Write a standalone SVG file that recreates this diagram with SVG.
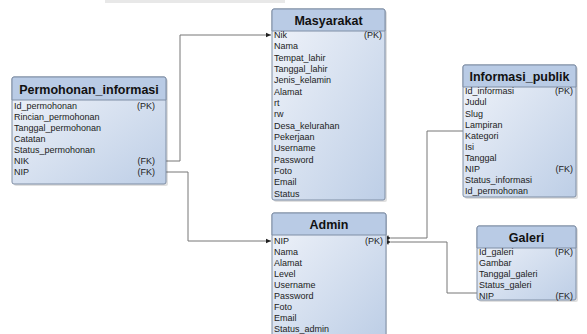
<svg xmlns="http://www.w3.org/2000/svg" width="587" height="334" viewBox="0 0 587 334">
<defs>
<linearGradient id="body" x1="0" y1="0" x2="1" y2="1">
<stop offset="0" stop-color="#f1f4fa"/>
<stop offset="1" stop-color="#bdcee6"/>
</linearGradient>
<marker id="arr" markerWidth="6" markerHeight="6" refX="5" refY="3" orient="auto" markerUnits="userSpaceOnUse">
<path d="M0,0.8 L5,3 L0,5.2 Z" fill="#222"/>
</marker>
<marker id="bar" markerWidth="6" markerHeight="6" refX="1" refY="3" orient="auto" markerUnits="userSpaceOnUse">
<path d="M1,0.5 L1,5.5 M3,0.5 L3,5.5" stroke="#222" stroke-width="1.2"/>
</marker>
</defs>
<style>
.box{fill:url(#body);stroke:#7f8ea5;stroke-width:1}
.hd{fill:#b9cbe5;stroke:#7f8ea5;stroke-width:1}
.sh{fill:#000;opacity:0.12}
.t{font-family:"Liberation Sans",Arial,sans-serif;font-size:12.5px;font-weight:bold;fill:#111;text-anchor:middle}
.r{font-family:"Liberation Sans",Arial,sans-serif;font-size:9px;fill:#222}
.k{font-family:"Liberation Sans",Arial,sans-serif;font-size:9px;fill:#222;text-anchor:end}
.c{fill:none;stroke:#777;stroke-width:1}
</style>
<rect x="105" y="0" width="180" height="3" fill="#e8e8e8"/>

<g id="connectors">
<polyline class="c" points="166,161 180,161 180,35 271,35" marker-end="url(#arr)"/>
<polyline class="c" points="166,172 188,172 188,241 271,241" marker-end="url(#arr)"/>
<polyline class="c" points="463,131 427,131 427,238 391,238"/>
<polyline class="c" points="477,293 447,293 447,242 391,242"/>
<path d="M387,236 L391,238 L387,240 Z M387,240 L391,242 L387,244 Z" fill="#222"/>
<path d="M388,235.5 L388,244.5" stroke="#222" stroke-width="1"/>
</g>

<g id="permohonan_informasi">
<rect class="sh" x="14" y="79" width="154" height="107" rx="2"/>
<rect class="box" x="12" y="77" width="154" height="107" rx="2"/>
<path class="hd" d="M12,100 L12,79 Q12,77 14,77 L164,77 Q166,77 166,79 L166,100 Z"/>
<text class="t" x="89" y="94">Permohonan_informasi</text>
<text class="r" x="14" y="109">Id_permohonan</text><text class="k" x="155" y="109">(PK)</text>
<text class="r" x="14" y="120">Rincian_permohonan</text>
<text class="r" x="14" y="131">Tanggal_permohonan</text>
<text class="r" x="14" y="142">Catatan</text>
<text class="r" x="14" y="153">Status_permohonan</text>
<text class="r" x="14" y="164">NIK</text><text class="k" x="155" y="164">(FK)</text>
<text class="r" x="14" y="175">NIP</text><text class="k" x="155" y="175">(FK)</text>
</g>

<g id="masyarakat">
<rect class="sh" x="274" y="11" width="113" height="191" rx="2"/>
<rect class="box" x="272" y="9" width="113" height="191" rx="2"/>
<path class="hd" d="M272,31 L272,11 Q272,9 274,9 L383,9 Q385,9 385,11 L385,31 Z"/>
<text class="t" x="328.5" y="25">Masyarakat</text>
<text class="r" x="274" y="38">Nik</text><text class="k" x="382" y="38">(PK)</text>
<text class="r" x="274" y="49">Nama</text>
<text class="r" x="274" y="60.5">Tempat_lahir</text>
<text class="r" x="274" y="72">Tanggal_lahir</text>
<text class="r" x="274" y="83">Jenis_kelamin</text>
<text class="r" x="274" y="94.5">Alamat</text>
<text class="r" x="274" y="106">rt</text>
<text class="r" x="274" y="117">rw</text>
<text class="r" x="274" y="128.5">Desa_kelurahan</text>
<text class="r" x="274" y="140">Pekerjaan</text>
<text class="r" x="274" y="151">Username</text>
<text class="r" x="274" y="162.5">Password</text>
<text class="r" x="274" y="174">Foto</text>
<text class="r" x="274" y="185">Email</text>
<text class="r" x="274" y="196.5">Status</text>
</g>

<g id="admin">
<rect class="sh" x="274" y="215" width="113" height="124" rx="2"/>
<rect class="box" x="272" y="213" width="114" height="124" rx="2"/>
<path class="hd" d="M272,235 L272,215 Q272,213 274,213 L384,213 Q386,213 386,215 L386,235 Z"/>
<text class="t" x="329" y="229">Admin</text>
<text class="r" x="274" y="244">NIP</text><text class="k" x="383" y="244">(PK)</text>
<text class="r" x="274" y="255">Nama</text>
<text class="r" x="274" y="266">Alamat</text>
<text class="r" x="274" y="277">Level</text>
<text class="r" x="274" y="288">Username</text>
<text class="r" x="274" y="299">Password</text>
<text class="r" x="274" y="310">Foto</text>
<text class="r" x="274" y="321">Email</text>
<text class="r" x="274" y="332">Status_admin</text>
</g>

<g id="informasi_publik">
<rect class="sh" x="465" y="67" width="113" height="132" rx="2"/>
<rect class="box" x="463" y="65" width="113" height="132" rx="2"/>
<path class="hd" d="M463,87 L463,67 Q463,65 465,65 L574,65 Q576,65 576,67 L576,87 Z"/>
<text class="t" x="519.5" y="81">Informasi_publik</text>
<text class="r" x="465" y="94">Id_informasi</text><text class="k" x="573" y="94">(PK)</text>
<text class="r" x="465" y="105">Judul</text>
<text class="r" x="465" y="116.5">Slug</text>
<text class="r" x="465" y="128">Lampiran</text>
<text class="r" x="465" y="139">Kategori</text>
<text class="r" x="465" y="150">Isi</text>
<text class="r" x="465" y="161">Tanggal</text>
<text class="r" x="465" y="172">NIP</text><text class="k" x="573" y="172">(FK)</text>
<text class="r" x="465" y="183">Status_informasi</text>
<text class="r" x="465" y="194">Id_permohonan</text>
</g>

<g id="galeri">
<rect class="sh" x="479" y="228" width="99" height="74" rx="2"/>
<rect class="box" x="477" y="226" width="99" height="74" rx="2"/>
<path class="hd" d="M477,248 L477,228 Q477,226 479,226 L574,226 Q576,226 576,228 L576,248 Z"/>
<text class="t" x="526.5" y="242">Galeri</text>
<text class="r" x="479" y="255">Id_galeri</text><text class="k" x="573" y="255">(PK)</text>
<text class="r" x="479" y="266">Gambar</text>
<text class="r" x="479" y="277">Tanggal_galeri</text>
<text class="r" x="479" y="288">Status_galeri</text>
<text class="r" x="479" y="299">NIP</text><text class="k" x="573" y="299">(FK)</text>
</g>
</svg>
